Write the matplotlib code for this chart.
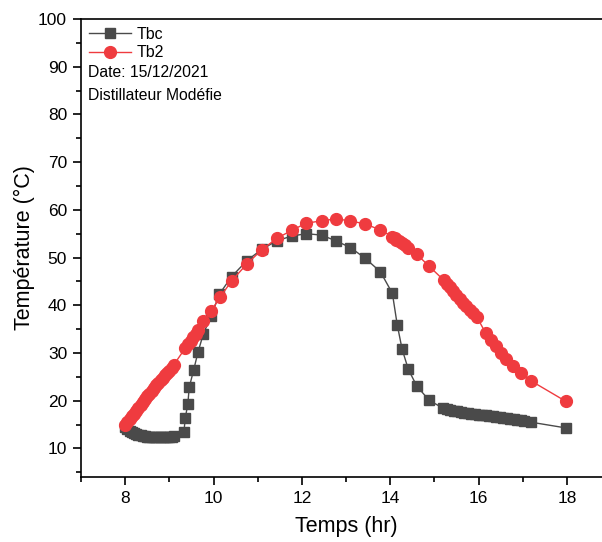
import matplotlib
matplotlib.use("Agg")
import matplotlib.pyplot as plt
from matplotlib.ticker import MultipleLocator
from matplotlib.lines import Line2D

plt.rcParams['font.family'] = ['Liberation Sans', 'DejaVu Sans']

# Tbc : temperature du bassin (carre gris)
t_bc = [8.00, 8.05, 8.10, 8.15, 8.20, 8.25, 8.30, 8.35, 8.40, 8.45, 8.50, 8.55,
        8.60, 8.65, 8.70, 8.75, 8.80, 8.85, 8.90, 8.95, 9.00, 9.05, 9.10,
        9.33, 9.36, 9.42, 9.45, 9.55, 9.65, 9.77, 9.95,
        10.13, 10.41, 10.75, 11.09, 11.43, 11.77, 12.10, 12.45, 12.77, 13.10,
        13.44, 13.78, 14.05, 14.16, 14.27, 14.41, 14.60, 14.88,
        15.20, 15.28, 15.36, 15.44, 15.52, 15.60, 15.68, 15.76, 15.84, 15.92,
        16.00, 16.08, 16.16, 16.24, 16.32, 16.40, 16.48, 16.56, 16.64, 16.72,
        16.80, 16.88, 16.96, 17.04, 17.18, 17.97]
v_bc = [14.5, 14.1, 13.7, 13.4, 13.2, 13.0, 12.8, 12.7, 12.6, 12.5, 12.4, 12.4,
        12.3, 12.3, 12.3, 12.3, 12.3, 12.3, 12.3, 12.3, 12.3, 12.4, 12.5,
        13.4, 16.3, 19.4, 22.8, 26.4, 30.2, 34.0, 37.8,
        42.3, 46.0, 49.3, 51.7, 53.5, 54.5, 55.0, 54.7, 53.5, 52.1,
        49.8, 47.0, 42.5, 35.9, 30.8, 26.6, 23.1, 20.1,
        18.4, 18.2, 18.0, 17.9, 17.8, 17.6, 17.5, 17.4, 17.3, 17.2,
        17.1, 17.0, 16.9, 16.8, 16.7, 16.6, 16.5, 16.4, 16.3, 16.2,
        16.1, 16.0, 15.9, 15.8, 15.5, 14.3]

# Tb2 : temperature du bassin modifie (cercle rouge)
t_b2 = [8.00, 8.05, 8.10, 8.15, 8.20, 8.25, 8.30, 8.35, 8.40, 8.45, 8.50, 8.55,
        8.60, 8.65, 8.70, 8.75, 8.80, 8.85, 8.90, 8.95, 9.00, 9.05, 9.10,
        9.36, 9.42, 9.48, 9.54, 9.60, 9.66, 9.77, 9.94,
        10.15, 10.41, 10.75, 11.09, 11.43, 11.77, 12.10, 12.45, 12.77, 13.10,
        13.44, 13.78, 14.05, 14.10, 14.14, 14.20, 14.26, 14.33, 14.41, 14.60,
        14.88, 15.22, 15.29, 15.35, 15.42, 15.50, 15.57, 15.65, 15.72, 15.80,
        15.88, 15.96, 16.16, 16.28, 16.39, 16.52, 16.63, 16.78, 16.97, 17.18,
        17.97]
v_b2 = [14.8, 15.5, 16.1, 16.7, 17.3, 17.9, 18.5, 19.1, 19.7, 20.3, 20.9, 21.5,
        22.1, 22.7, 23.3, 23.8, 24.3, 24.8, 25.3, 25.8, 26.3, 26.8, 27.5,
        31.0, 31.8, 32.6, 33.3, 34.0, 34.9, 36.6, 38.7,
        41.7, 45.1, 48.6, 51.6, 54.0, 55.7, 57.2, 57.7, 58.1, 57.7,
        57.0, 55.8, 54.4, 54.0, 53.7, 53.4, 53.1, 52.6, 52.1, 50.7,
        48.2, 45.2, 44.5, 43.9, 43.0, 42.2, 41.3, 40.5, 39.8, 39.1,
        38.3, 37.6, 34.2, 32.8, 31.4, 30.0, 28.7, 27.3, 25.9, 24.2,
        19.9]

grey = '#4a4a4a'
red = '#ef3b3f'

fig = plt.figure(figsize=(6.02, 5.42), dpi=100)
ax = fig.add_axes([81 / 602, 65 / 542, 530 / 602, 458 / 542])

ax.plot(t_bc, v_bc, color=grey, lw=1, marker='s', ms=7, mec=grey, mfc=grey, zorder=2)
ax.plot(t_b2, v_b2, color=red, lw=1, marker='o', ms=8.5, mec=red, mfc=red, zorder=3)

ax.set_xlim(7, 19)
ax.set_ylim(4, 100)
ax.xaxis.set_major_locator(MultipleLocator(2))
ax.xaxis.set_minor_locator(MultipleLocator(1))
ax.yaxis.set_major_locator(MultipleLocator(10))
ax.yaxis.set_minor_locator(MultipleLocator(5))
ax.tick_params(which='major', direction='out', length=6, width=1.2, labelsize=12.5, pad=4)
ax.tick_params(which='minor', direction='out', length=3.5, width=1.2)
for side in ['left', 'bottom', 'top']:
    ax.spines[side].set_linewidth(1.2)
ax.spines['right'].set_visible(False)

ax.set_xlabel('Temps (hr)', fontsize=15.5, labelpad=7)
ax.set_ylabel('Température (°C)', fontsize=15.5, labelpad=2)

handles = [Line2D([], [], color=grey, lw=1, marker='s', ms=7),
           Line2D([], [], color=red, lw=1, marker='o', ms=8.5)]
ax.legend(handles, ['Tbc', 'Tb2'], loc='upper left', frameon=False,
          fontsize=11.5, handlelength=2.6, handletextpad=0.4,
          labelspacing=0.2, borderaxespad=0.1, bbox_to_anchor=(0.0, 1.0))
ax.text(0.013, 0.884, 'Date: 15/12/2021', transform=ax.transAxes, fontsize=11.3, va='center')
ax.text(0.013, 0.832, 'Distillateur Modéfie', transform=ax.transAxes, fontsize=11.3, va='center')

fig.savefig('out.png', dpi=100)
